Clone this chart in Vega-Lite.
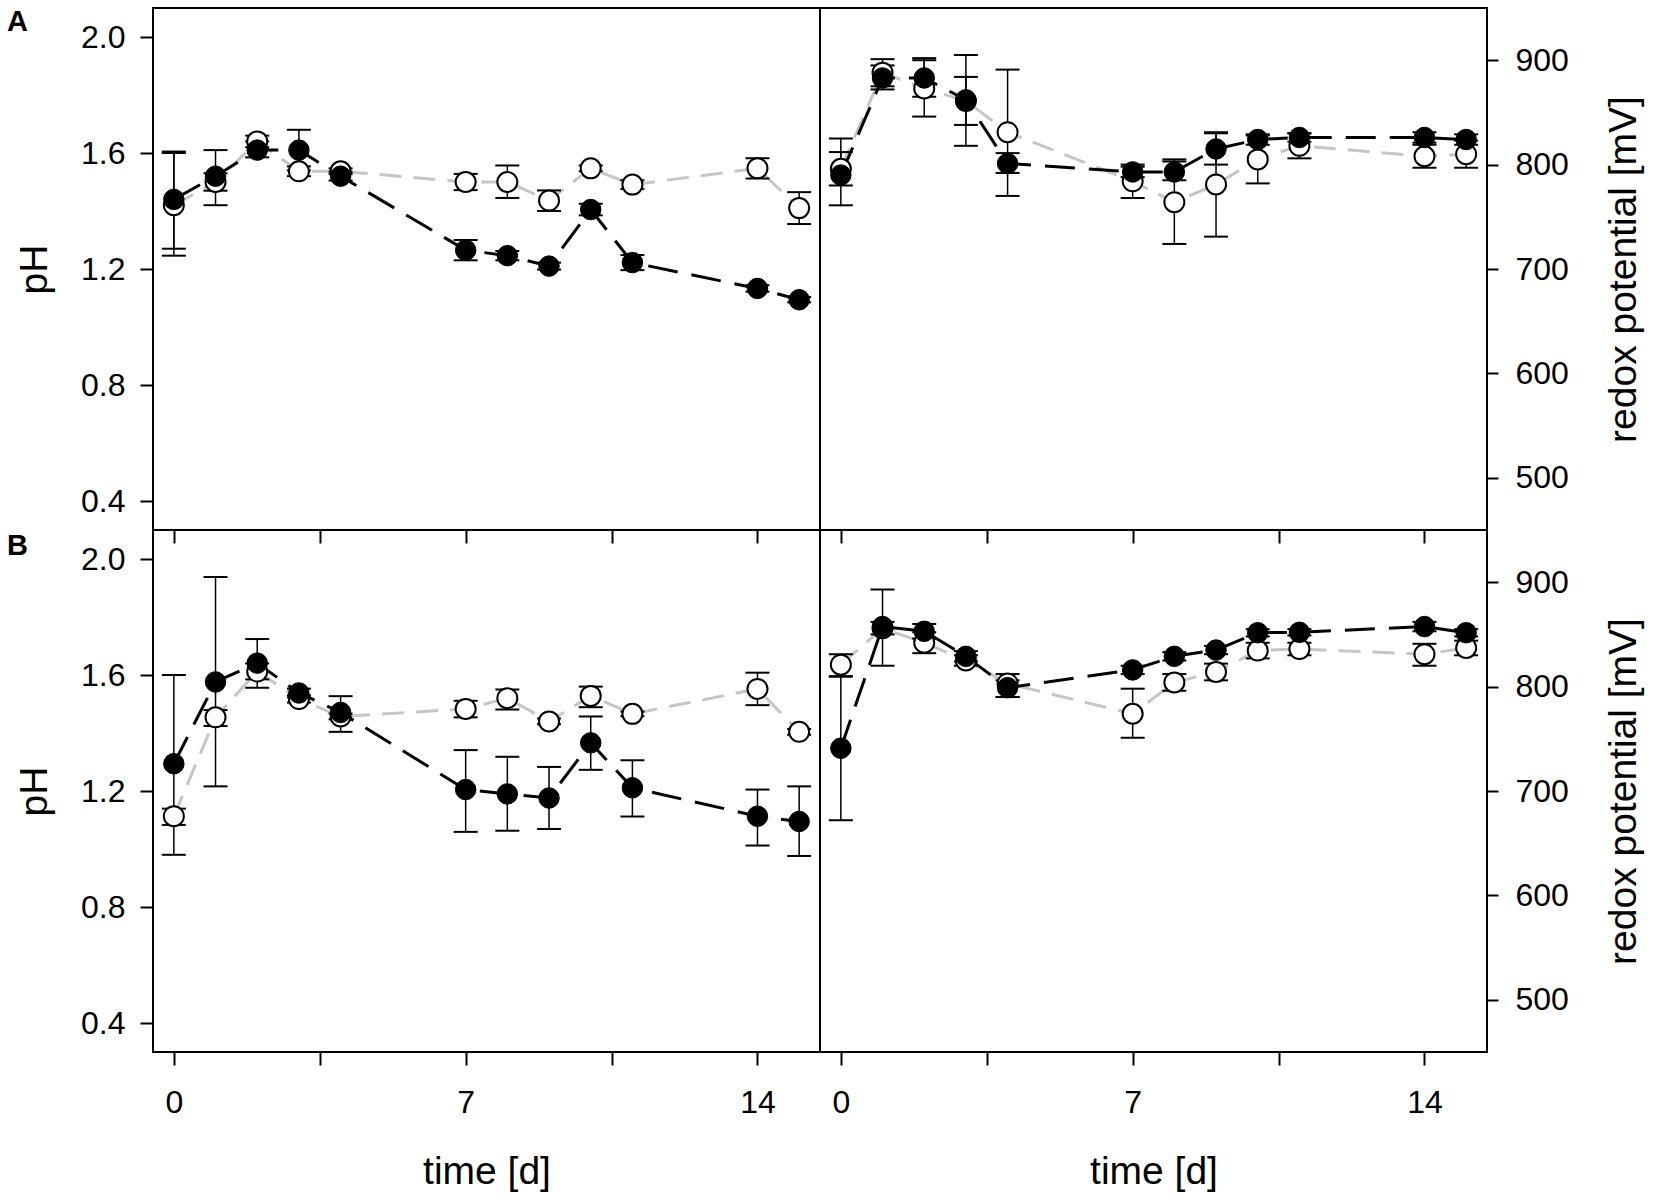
{
  "$schema": "https://vega.github.io/schema/vega-lite/v6.json",
  "background": "white",
  "padding": {"left": 6, "top": 7, "right": 5, "bottom": 5},
  "datasets": {
    "d": [
      {"p":"A","s":"pH","g":"f","t":0,"v":1.44,"lo":1.27,"hi":1.605},
      {"p":"A","s":"pH","g":"f","t":1,"v":1.52,"lo":1.42,"hi":1.61},
      {"p":"A","s":"pH","g":"f","t":2,"v":1.61,"lo":1.585,"hi":1.64},
      {"p":"A","s":"pH","g":"f","t":3,"v":1.61,"lo":1.54,"hi":1.68},
      {"p":"A","s":"pH","g":"f","t":4,"v":1.52,"lo":1.505,"hi":1.535},
      {"p":"A","s":"pH","g":"f","t":7,"v":1.265,"lo":1.23,"hi":1.3},
      {"p":"A","s":"pH","g":"f","t":8,"v":1.246,"lo":1.23,"hi":1.262},
      {"p":"A","s":"pH","g":"f","t":9,"v":1.21,"lo":1.198,"hi":1.222},
      {"p":"A","s":"pH","g":"f","t":10,"v":1.405,"lo":1.385,"hi":1.425},
      {"p":"A","s":"pH","g":"f","t":11,"v":1.222,"lo":1.196,"hi":1.248},
      {"p":"A","s":"pH","g":"f","t":14,"v":1.133,"lo":1.122,"hi":1.144},
      {"p":"A","s":"pH","g":"f","t":15,"v":1.094,"lo":1.085,"hi":1.103},
      {"p":"A","s":"pH","g":"o","t":0,"v":1.42,"lo":1.246,"hi":1.6},
      {"p":"A","s":"pH","g":"o","t":1,"v":1.5,"lo":1.47,"hi":1.53},
      {"p":"A","s":"pH","g":"o","t":2,"v":1.64,"lo":1.62,"hi":1.66},
      {"p":"A","s":"pH","g":"o","t":3,"v":1.537,"lo":1.52,"hi":1.554},
      {"p":"A","s":"pH","g":"o","t":4,"v":1.537,"lo":1.527,"hi":1.547},
      {"p":"A","s":"pH","g":"o","t":7,"v":1.5,"lo":1.472,"hi":1.528},
      {"p":"A","s":"pH","g":"o","t":8,"v":1.5,"lo":1.445,"hi":1.557},
      {"p":"A","s":"pH","g":"o","t":9,"v":1.436,"lo":1.4,"hi":1.471},
      {"p":"A","s":"pH","g":"o","t":10,"v":1.547,"lo":1.537,"hi":1.557},
      {"p":"A","s":"pH","g":"o","t":11,"v":1.491,"lo":1.476,"hi":1.506},
      {"p":"A","s":"pH","g":"o","t":14,"v":1.547,"lo":1.512,"hi":1.582},
      {"p":"A","s":"pH","g":"o","t":15,"v":1.41,"lo":1.355,"hi":1.465},
      {"p":"A","s":"redox","g":"f","t":0,"v":790,"lo":761,"hi":825},
      {"p":"A","s":"redox","g":"f","t":1,"v":883,"lo":872,"hi":895},
      {"p":"A","s":"redox","g":"f","t":2,"v":883,"lo":865,"hi":902},
      {"p":"A","s":"redox","g":"f","t":3,"v":862,"lo":838,"hi":884},
      {"p":"A","s":"redox","g":"f","t":4,"v":801,"lo":792,"hi":811},
      {"p":"A","s":"redox","g":"f","t":7,"v":793,"lo":788,"hi":798},
      {"p":"A","s":"redox","g":"f","t":8,"v":793,"lo":785,"hi":803},
      {"p":"A","s":"redox","g":"f","t":9,"v":815,"lo":800,"hi":830},
      {"p":"A","s":"redox","g":"f","t":10,"v":824,"lo":819,"hi":829},
      {"p":"A","s":"redox","g":"f","t":11,"v":826,"lo":822,"hi":830},
      {"p":"A","s":"redox","g":"f","t":14,"v":826,"lo":821,"hi":831},
      {"p":"A","s":"redox","g":"f","t":15,"v":824,"lo":819,"hi":829},
      {"p":"A","s":"redox","g":"o","t":0,"v":796,"lo":780,"hi":812},
      {"p":"A","s":"redox","g":"o","t":1,"v":888,"lo":875,"hi":901},
      {"p":"A","s":"redox","g":"o","t":2,"v":873,"lo":846,"hi":900},
      {"p":"A","s":"redox","g":"o","t":3,"v":861,"lo":818,"hi":905},
      {"p":"A","s":"redox","g":"o","t":4,"v":831,"lo":770,"hi":891},
      {"p":"A","s":"redox","g":"o","t":7,"v":784,"lo":768,"hi":800},
      {"p":"A","s":"redox","g":"o","t":8,"v":764,"lo":724,"hi":805},
      {"p":"A","s":"redox","g":"o","t":9,"v":781,"lo":731,"hi":831},
      {"p":"A","s":"redox","g":"o","t":10,"v":805,"lo":782,"hi":828},
      {"p":"A","s":"redox","g":"o","t":11,"v":818,"lo":806,"hi":830},
      {"p":"A","s":"redox","g":"o","t":14,"v":808,"lo":797,"hi":819},
      {"p":"A","s":"redox","g":"o","t":15,"v":810,"lo":797,"hi":823},
      {"p":"B","s":"pH","g":"f","t":0,"v":1.294,"lo":0.98,"hi":1.6},
      {"p":"B","s":"pH","g":"f","t":1,"v":1.576,"lo":1.216,"hi":1.938},
      {"p":"B","s":"pH","g":"f","t":2,"v":1.641,"lo":1.556,"hi":1.724},
      {"p":"B","s":"pH","g":"f","t":3,"v":1.538,"lo":1.523,"hi":1.553},
      {"p":"B","s":"pH","g":"f","t":4,"v":1.471,"lo":1.404,"hi":1.527},
      {"p":"B","s":"pH","g":"f","t":7,"v":1.205,"lo":1.059,"hi":1.341},
      {"p":"B","s":"pH","g":"f","t":8,"v":1.19,"lo":1.063,"hi":1.318},
      {"p":"B","s":"pH","g":"f","t":9,"v":1.176,"lo":1.069,"hi":1.283},
      {"p":"B","s":"pH","g":"f","t":10,"v":1.366,"lo":1.273,"hi":1.457},
      {"p":"B","s":"pH","g":"f","t":11,"v":1.211,"lo":1.112,"hi":1.306},
      {"p":"B","s":"pH","g":"f","t":14,"v":1.113,"lo":1.012,"hi":1.205},
      {"p":"B","s":"pH","g":"f","t":15,"v":1.095,"lo":0.976,"hi":1.216},
      {"p":"B","s":"pH","g":"o","t":0,"v":1.113,"lo":1.083,"hi":1.139},
      {"p":"B","s":"pH","g":"o","t":1,"v":1.454,"lo":1.424,"hi":1.479},
      {"p":"B","s":"pH","g":"o","t":2,"v":1.612,"lo":1.585,"hi":1.64},
      {"p":"B","s":"pH","g":"o","t":3,"v":1.517,"lo":1.505,"hi":1.53},
      {"p":"B","s":"pH","g":"o","t":4,"v":1.457,"lo":1.447,"hi":1.467},
      {"p":"B","s":"pH","g":"o","t":7,"v":1.483,"lo":1.454,"hi":1.511},
      {"p":"B","s":"pH","g":"o","t":8,"v":1.52,"lo":1.481,"hi":1.55},
      {"p":"B","s":"pH","g":"o","t":9,"v":1.44,"lo":1.43,"hi":1.45},
      {"p":"B","s":"pH","g":"o","t":10,"v":1.528,"lo":1.489,"hi":1.56},
      {"p":"B","s":"pH","g":"o","t":11,"v":1.466,"lo":1.458,"hi":1.474},
      {"p":"B","s":"pH","g":"o","t":14,"v":1.552,"lo":1.496,"hi":1.608},
      {"p":"B","s":"pH","g":"o","t":15,"v":1.404,"lo":1.394,"hi":1.414},
      {"p":"B","s":"redox","g":"f","t":0,"v":741,"lo":672,"hi":810},
      {"p":"B","s":"redox","g":"f","t":1,"v":857.5,"lo":820,"hi":893},
      {"p":"B","s":"redox","g":"f","t":2,"v":853,"lo":846,"hi":860},
      {"p":"B","s":"redox","g":"f","t":3,"v":829,"lo":824,"hi":834},
      {"p":"B","s":"redox","g":"f","t":4,"v":799,"lo":790,"hi":806},
      {"p":"B","s":"redox","g":"f","t":7,"v":816,"lo":812,"hi":820},
      {"p":"B","s":"redox","g":"f","t":8,"v":829,"lo":825,"hi":833},
      {"p":"B","s":"redox","g":"f","t":9,"v":835,"lo":831,"hi":839},
      {"p":"B","s":"redox","g":"f","t":10,"v":851.6,"lo":848,"hi":855},
      {"p":"B","s":"redox","g":"f","t":11,"v":852,"lo":849,"hi":855},
      {"p":"B","s":"redox","g":"f","t":14,"v":857.5,"lo":853,"hi":862},
      {"p":"B","s":"redox","g":"f","t":15,"v":851.6,"lo":848,"hi":855},
      {"p":"B","s":"redox","g":"o","t":0,"v":821,"lo":809.5,"hi":831},
      {"p":"B","s":"redox","g":"o","t":1,"v":856,"lo":850,"hi":862},
      {"p":"B","s":"redox","g":"o","t":2,"v":842,"lo":832,"hi":852},
      {"p":"B","s":"redox","g":"o","t":3,"v":825,"lo":820,"hi":830},
      {"p":"B","s":"redox","g":"o","t":4,"v":803,"lo":790,"hi":812},
      {"p":"B","s":"redox","g":"o","t":7,"v":774,"lo":751,"hi":798},
      {"p":"B","s":"redox","g":"o","t":8,"v":804,"lo":796,"hi":812},
      {"p":"B","s":"redox","g":"o","t":9,"v":814,"lo":806,"hi":822},
      {"p":"B","s":"redox","g":"o","t":10,"v":834.5,"lo":827,"hi":842},
      {"p":"B","s":"redox","g":"o","t":11,"v":836,"lo":830,"hi":842},
      {"p":"B","s":"redox","g":"o","t":14,"v":831,"lo":820,"hi":841},
      {"p":"B","s":"redox","g":"o","t":15,"v":837,"lo":830,"hi":844}
    ],
    "labels": [
      {"p":"A","s":"pH","label":"A","lx":-4.0,"ly":2.02},
      {"p":"B","s":"pH","label":"B","lx":-4.0,"ly":2.015}
    ]
  },
  "columns": 2,
  "spacing": 0,
  "bounds": "flush",
  "concat": [
    {
      "width": 667, "height": 522,
      "encoding": {
        "x": {"field": "t", "type": "quantitative", "scale": {"domain": [-0.5, 15.5], "nice": false, "zero": false},
              "axis": {"values": [0, 3.5, 7, 10.5, 14], "labels": false, "title": null, "tickSize": 13}}
      },
      "layer": [
        {"data": {"name": "d"}, "transform": [{"filter": "datum.p == 'A' && datum.s == 'pH' && datum.g == 'o'"}],
         "mark": {"type": "line", "color": "#c6c6c6", "strokeWidth": 3, "strokeDash": [22, 12]},
         "encoding": {"y": {"field": "v", "type": "quantitative", "scale": {"domain": [0.3, 2.1], "nice": false, "zero": false},
           "axis": {"values": [0.4, 0.8, 1.2, 1.6, 2.0], "format": ".1f", "title": "pH", "tickSize": 13, "labelPadding": 15, "titlePadding": 26}}}},
        {"data": {"name": "d"}, "transform": [{"filter": "datum.p == 'A' && datum.s == 'pH' && datum.g == 'f'"}],
         "mark": {"type": "line", "color": "black", "strokeWidth": 3, "strokeDash": [30, 14]},
         "encoding": {"y": {"field": "v", "type": "quantitative"}}},
        {"data": {"name": "d"}, "transform": [{"filter": "datum.p == 'A' && datum.s == 'pH'"}],
         "mark": {"type": "rule", "color": "black", "strokeWidth": 1.5},
         "encoding": {"y": {"field": "lo", "type": "quantitative"}, "y2": {"field": "hi"}}},
        {"data": {"name": "d"}, "transform": [{"filter": "datum.p == 'A' && datum.s == 'pH'"}],
         "mark": {"type": "tick", "orient": "horizontal", "size": 24, "thickness": 2, "color": "black", "opacity": 1},
         "encoding": {"y": {"field": "lo", "type": "quantitative"}}},
        {"data": {"name": "d"}, "transform": [{"filter": "datum.p == 'A' && datum.s == 'pH'"}],
         "mark": {"type": "tick", "orient": "horizontal", "size": 24, "thickness": 2, "color": "black", "opacity": 1},
         "encoding": {"y": {"field": "hi", "type": "quantitative"}}},
        {"data": {"name": "d"}, "transform": [{"filter": "datum.p == 'A' && datum.s == 'pH' && datum.g == 'o'"}],
         "mark": {"type": "point", "shape": "circle", "filled": true, "fill": "white", "stroke": "black", "strokeWidth": 2, "size": 400, "opacity": 1},
         "encoding": {"y": {"field": "v", "type": "quantitative"}}},
        {"data": {"name": "d"}, "transform": [{"filter": "datum.p == 'A' && datum.s == 'pH' && datum.g == 'f'"}],
         "mark": {"type": "point", "shape": "circle", "filled": true, "fill": "black", "stroke": "black", "strokeWidth": 1, "size": 420, "opacity": 1},
         "encoding": {"y": {"field": "v", "type": "quantitative"}}},
        {"data": {"name": "labels"}, "transform": [{"filter": "datum.p == 'A'"}],
         "mark": {"type": "text", "fontSize": 29, "fontWeight": "bold", "font": "Liberation Sans", "align": "left", "baseline": "alphabetic", "color": "black"},
         "encoding": {"x": {"field": "lx", "type": "quantitative"}, "y": {"field": "ly", "type": "quantitative"}, "text": {"field": "label"}}}
      ]
    },
    {
      "width": 667, "height": 522,
      "encoding": {
        "x": {"field": "t", "type": "quantitative", "scale": {"domain": [-0.5, 15.5], "nice": false, "zero": false},
              "axis": {"values": [0, 3.5, 7, 10.5, 14], "labels": false, "title": null, "tickSize": 13}}
      },
      "layer": [
        {"data": {"name": "d"}, "transform": [{"filter": "datum.p == 'A' && datum.s == 'redox' && datum.g == 'o'"}],
         "mark": {"type": "line", "color": "#c6c6c6", "strokeWidth": 3, "strokeDash": [22, 12]},
         "encoding": {"y": {"field": "v", "type": "quantitative", "scale": {"domain": [450, 950], "nice": false, "zero": false},
           "axis": {"orient": "right", "values": [500, 600, 700, 800, 900], "title": "redox potential [mV]", "tickSize": 11, "labelPadding": 17, "titlePadding": 36, "titleAngle": -90, "titleBaseline": "top"}}}},
        {"data": {"name": "d"}, "transform": [{"filter": "datum.p == 'A' && datum.s == 'redox' && datum.g == 'f'"}],
         "mark": {"type": "line", "color": "black", "strokeWidth": 3, "strokeDash": [30, 14]},
         "encoding": {"y": {"field": "v", "type": "quantitative"}}},
        {"data": {"name": "d"}, "transform": [{"filter": "datum.p == 'A' && datum.s == 'redox'"}],
         "mark": {"type": "rule", "color": "black", "strokeWidth": 1.5},
         "encoding": {"y": {"field": "lo", "type": "quantitative"}, "y2": {"field": "hi"}}},
        {"data": {"name": "d"}, "transform": [{"filter": "datum.p == 'A' && datum.s == 'redox'"}],
         "mark": {"type": "tick", "orient": "horizontal", "size": 24, "thickness": 2, "color": "black", "opacity": 1},
         "encoding": {"y": {"field": "lo", "type": "quantitative"}}},
        {"data": {"name": "d"}, "transform": [{"filter": "datum.p == 'A' && datum.s == 'redox'"}],
         "mark": {"type": "tick", "orient": "horizontal", "size": 24, "thickness": 2, "color": "black", "opacity": 1},
         "encoding": {"y": {"field": "hi", "type": "quantitative"}}},
        {"data": {"name": "d"}, "transform": [{"filter": "datum.p == 'A' && datum.s == 'redox' && datum.g == 'o'"}],
         "mark": {"type": "point", "shape": "circle", "filled": true, "fill": "white", "stroke": "black", "strokeWidth": 2, "size": 400, "opacity": 1},
         "encoding": {"y": {"field": "v", "type": "quantitative"}}},
        {"data": {"name": "d"}, "transform": [{"filter": "datum.p == 'A' && datum.s == 'redox' && datum.g == 'f'"}],
         "mark": {"type": "point", "shape": "circle", "filled": true, "fill": "black", "stroke": "black", "strokeWidth": 1, "size": 420, "opacity": 1},
         "encoding": {"y": {"field": "v", "type": "quantitative"}}}
      ]
    },
    {
      "width": 667, "height": 522,
      "encoding": {
        "x": {"field": "t", "type": "quantitative", "scale": {"domain": [-0.5, 15.5], "nice": false, "zero": false},
              "axis": {"values": [0, 3.5, 7, 10.5, 14], "labelExpr": "datum.value % 7 == 0 ? datum.label : ''", "title": "time [d]", "tickSize": 13, "labelPadding": 22, "titlePadding": 34}}
      },
      "layer": [
        {"data": {"name": "d"}, "transform": [{"filter": "datum.p == 'B' && datum.s == 'pH' && datum.g == 'o'"}],
         "mark": {"type": "line", "color": "#c6c6c6", "strokeWidth": 3, "strokeDash": [22, 12]},
         "encoding": {"y": {"field": "v", "type": "quantitative", "scale": {"domain": [0.3, 2.1], "nice": false, "zero": false},
           "axis": {"values": [0.4, 0.8, 1.2, 1.6, 2.0], "format": ".1f", "title": "pH", "tickSize": 13, "labelPadding": 15, "titlePadding": 26}}}},
        {"data": {"name": "d"}, "transform": [{"filter": "datum.p == 'B' && datum.s == 'pH' && datum.g == 'f'"}],
         "mark": {"type": "line", "color": "black", "strokeWidth": 3, "strokeDash": [30, 14]},
         "encoding": {"y": {"field": "v", "type": "quantitative"}}},
        {"data": {"name": "d"}, "transform": [{"filter": "datum.p == 'B' && datum.s == 'pH'"}],
         "mark": {"type": "rule", "color": "black", "strokeWidth": 1.5},
         "encoding": {"y": {"field": "lo", "type": "quantitative"}, "y2": {"field": "hi"}}},
        {"data": {"name": "d"}, "transform": [{"filter": "datum.p == 'B' && datum.s == 'pH'"}],
         "mark": {"type": "tick", "orient": "horizontal", "size": 24, "thickness": 2, "color": "black", "opacity": 1},
         "encoding": {"y": {"field": "lo", "type": "quantitative"}}},
        {"data": {"name": "d"}, "transform": [{"filter": "datum.p == 'B' && datum.s == 'pH'"}],
         "mark": {"type": "tick", "orient": "horizontal", "size": 24, "thickness": 2, "color": "black", "opacity": 1},
         "encoding": {"y": {"field": "hi", "type": "quantitative"}}},
        {"data": {"name": "d"}, "transform": [{"filter": "datum.p == 'B' && datum.s == 'pH' && datum.g == 'o'"}],
         "mark": {"type": "point", "shape": "circle", "filled": true, "fill": "white", "stroke": "black", "strokeWidth": 2, "size": 400, "opacity": 1},
         "encoding": {"y": {"field": "v", "type": "quantitative"}}},
        {"data": {"name": "d"}, "transform": [{"filter": "datum.p == 'B' && datum.s == 'pH' && datum.g == 'f'"}],
         "mark": {"type": "point", "shape": "circle", "filled": true, "fill": "black", "stroke": "black", "strokeWidth": 1, "size": 420, "opacity": 1},
         "encoding": {"y": {"field": "v", "type": "quantitative"}}},
        {"data": {"name": "labels"}, "transform": [{"filter": "datum.p == 'B'"}],
         "mark": {"type": "text", "fontSize": 29, "fontWeight": "bold", "font": "Liberation Sans", "align": "left", "baseline": "alphabetic", "color": "black"},
         "encoding": {"x": {"field": "lx", "type": "quantitative"}, "y": {"field": "ly", "type": "quantitative"}, "text": {"field": "label"}}}
      ]
    },
    {
      "width": 667, "height": 522,
      "encoding": {
        "x": {"field": "t", "type": "quantitative", "scale": {"domain": [-0.5, 15.5], "nice": false, "zero": false},
              "axis": {"values": [0, 3.5, 7, 10.5, 14], "labelExpr": "datum.value % 7 == 0 ? datum.label : ''", "title": "time [d]", "tickSize": 13, "labelPadding": 22, "titlePadding": 34}}
      },
      "layer": [
        {"data": {"name": "d"}, "transform": [{"filter": "datum.p == 'B' && datum.s == 'redox' && datum.g == 'o'"}],
         "mark": {"type": "line", "color": "#c6c6c6", "strokeWidth": 3, "strokeDash": [22, 12]},
         "encoding": {"y": {"field": "v", "type": "quantitative", "scale": {"domain": [450, 950], "nice": false, "zero": false},
           "axis": {"orient": "right", "values": [500, 600, 700, 800, 900], "title": "redox potential [mV]", "tickSize": 11, "labelPadding": 17, "titlePadding": 36, "titleAngle": -90, "titleBaseline": "top"}}}},
        {"data": {"name": "d"}, "transform": [{"filter": "datum.p == 'B' && datum.s == 'redox' && datum.g == 'f'"}],
         "mark": {"type": "line", "color": "black", "strokeWidth": 3, "strokeDash": [30, 14]},
         "encoding": {"y": {"field": "v", "type": "quantitative"}}},
        {"data": {"name": "d"}, "transform": [{"filter": "datum.p == 'B' && datum.s == 'redox'"}],
         "mark": {"type": "rule", "color": "black", "strokeWidth": 1.5},
         "encoding": {"y": {"field": "lo", "type": "quantitative"}, "y2": {"field": "hi"}}},
        {"data": {"name": "d"}, "transform": [{"filter": "datum.p == 'B' && datum.s == 'redox'"}],
         "mark": {"type": "tick", "orient": "horizontal", "size": 24, "thickness": 2, "color": "black", "opacity": 1},
         "encoding": {"y": {"field": "lo", "type": "quantitative"}}},
        {"data": {"name": "d"}, "transform": [{"filter": "datum.p == 'B' && datum.s == 'redox'"}],
         "mark": {"type": "tick", "orient": "horizontal", "size": 24, "thickness": 2, "color": "black", "opacity": 1},
         "encoding": {"y": {"field": "hi", "type": "quantitative"}}},
        {"data": {"name": "d"}, "transform": [{"filter": "datum.p == 'B' && datum.s == 'redox' && datum.g == 'o'"}],
         "mark": {"type": "point", "shape": "circle", "filled": true, "fill": "white", "stroke": "black", "strokeWidth": 2, "size": 400, "opacity": 1},
         "encoding": {"y": {"field": "v", "type": "quantitative"}}},
        {"data": {"name": "d"}, "transform": [{"filter": "datum.p == 'B' && datum.s == 'redox' && datum.g == 'f'"}],
         "mark": {"type": "point", "shape": "circle", "filled": true, "fill": "black", "stroke": "black", "strokeWidth": 1, "size": 420, "opacity": 1},
         "encoding": {"y": {"field": "v", "type": "quantitative"}}}
      ]
    }
  ],
  "config": {
    "font": "Liberation Sans",
    "view": {"stroke": "black", "strokeWidth": 2},
    "axis": {
      "domain": false, "grid": false,
      "tickColor": "black", "tickWidth": 2,
      "labelColor": "black", "titleColor": "black",
      "labelFont": "Liberation Sans", "titleFont": "Liberation Sans",
      "labelFontSize": 32, "titleFontSize": 39, "titleFontWeight": "normal",
      "labelFlush": false, "labelOverlap": false
    }
  }
}
